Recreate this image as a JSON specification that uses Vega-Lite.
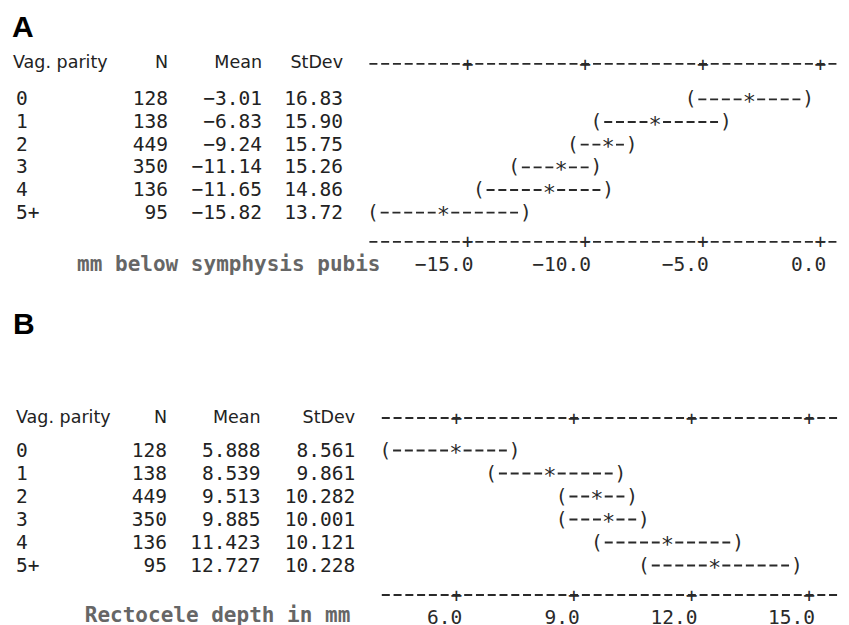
{
  "$schema": "https://vega.github.io/schema/vega-lite/v6.json",
  "background": "white",
  "padding": {"left": 12, "top": 13, "right": 4, "bottom": 0},
  "config": {"view": {"stroke": null}, "font": "DejaVu Sans Mono"},
  "datasets": {
    "A": [
      {"parity": "0", "n": 128, "mean": -3.01, "sd": 16.83, "lo": -5.5, "mid": -3.0, "hi": -0.5},
      {"parity": "1", "n": 138, "mean": -6.83, "sd": 15.90, "lo": -9.5, "mid": -7.0, "hi": -4.0},
      {"parity": "2", "n": 449, "mean": -9.24, "sd": 15.75, "lo": -10.5, "mid": -9.0, "hi": -8.0},
      {"parity": "3", "n": 350, "mean": -11.14, "sd": 15.26, "lo": -13.0, "mid": -11.0, "hi": -9.5},
      {"parity": "4", "n": 136, "mean": -11.65, "sd": 14.86, "lo": -14.5, "mid": -11.5, "hi": -9.0},
      {"parity": "5+", "n": 95, "mean": -15.82, "sd": 13.72, "lo": -19.0, "mid": -16.0, "hi": -12.5}
    ],
    "B": [
      {"parity": "0", "n": 128, "mean": 5.888, "sd": 8.561, "lo": 4.2, "mid": 6.0, "hi": 7.5},
      {"parity": "1", "n": 138, "mean": 8.539, "sd": 9.861, "lo": 6.9, "mid": 8.4, "hi": 10.2},
      {"parity": "2", "n": 449, "mean": 9.513, "sd": 10.282, "lo": 8.7, "mid": 9.6, "hi": 10.5},
      {"parity": "3", "n": 350, "mean": 9.885, "sd": 10.001, "lo": 8.7, "mid": 9.9, "hi": 10.8},
      {"parity": "4", "n": 136, "mean": 11.423, "sd": 10.121, "lo": 9.6, "mid": 11.4, "hi": 13.2},
      {"parity": "5+", "n": 95, "mean": 12.727, "sd": 10.228, "lo": 10.8, "mid": 12.6, "hi": 14.7}
    ]
  },
  "spacing": 34,
  "vconcat": [
    {
      "title": {"text": "A", "anchor": "start", "font": "Liberation Sans", "fontSize": 30, "fontWeight": "bold", "color": "#000", "offset": 10.5, "dx": -1},
      "data": {"name": "A"},
      "bounds": "flush",
      "spacing": 24,
      "hconcat": [
        {
          "width": 64, "height": 136,
          "title": {"text": "Vag. parity", "anchor": "start", "font": "DejaVu Sans", "fontSize": 17.5, "fontWeight": "normal", "color": "#222", "offset": 17, "dx": -3},
          "mark": {"type": "text", "align": "left", "baseline": "middle", "font": "DejaVu Sans Mono", "fontSize": 19.5, "color": "#222"},
          "encoding": {
            "y": {"field": "parity", "type": "ordinal", "sort": null, "axis": null, "scale": {"type": "band", "paddingInner": 0, "paddingOuter": 0}},
            "x": {"value": 0},
            "text": {"field": "parity"}
          }
        },
        {
          "width": 64, "height": 136,
          "title": {"text": "N", "anchor": "end", "font": "DejaVu Sans", "fontSize": 17.5, "fontWeight": "normal", "color": "#222", "offset": 17},
          "mark": {"type": "text", "align": "right", "baseline": "middle", "font": "DejaVu Sans Mono", "fontSize": 19.5, "color": "#222"},
          "encoding": {
            "y": {"field": "parity", "type": "ordinal", "sort": null, "axis": null, "scale": {"type": "band", "paddingInner": 0, "paddingOuter": 0}},
            "x": {"value": "width"},
            "text": {"field": "n"}
          }
        },
        {
          "width": 70, "height": 136,
          "title": {"text": "Mean", "anchor": "end", "font": "DejaVu Sans", "fontSize": 17.5, "fontWeight": "normal", "color": "#222", "offset": 17},
          "mark": {"type": "text", "align": "right", "baseline": "middle", "font": "DejaVu Sans Mono", "fontSize": 19.5, "color": "#222"},
          "encoding": {
            "y": {"field": "parity", "type": "ordinal", "sort": null, "axis": null, "scale": {"type": "band", "paddingInner": 0, "paddingOuter": 0}},
            "x": {"value": "width"},
            "text": {"field": "mean", "type": "quantitative", "format": ".2f"}
          }
        },
        {
          "width": 57, "height": 136,
          "title": {"text": "StDev", "anchor": "end", "font": "DejaVu Sans", "fontSize": 17.5, "fontWeight": "normal", "color": "#222", "offset": 17},
          "mark": {"type": "text", "align": "right", "baseline": "middle", "font": "DejaVu Sans Mono", "fontSize": 19.5, "color": "#222"},
          "encoding": {
            "y": {"field": "parity", "type": "ordinal", "sort": null, "axis": null, "scale": {"type": "band", "paddingInner": 0, "paddingOuter": 0}},
            "x": {"value": "width"},
            "text": {"field": "sd", "type": "quantitative", "format": ".2f"}
          }
        },
        {
          "width": 470.6, "height": 136,
          "resolve": {"axis": {"x": "independent"}},
          "encoding": {
            "y": {"field": "parity", "type": "ordinal", "sort": null, "axis": null, "scale": {"type": "band", "paddingInner": 0, "paddingOuter": 0}}
          },
          "layer": [
            {
              "mark": {"type": "rule", "color": "#2a2a2a", "strokeWidth": 1.8, "strokeDash": [8, 3.77], "xOffset": 7.8, "x2Offset": -7.8},
              "encoding": {
                "x": {"field": "lo", "type": "quantitative", "scale": {"domain": [-19.25, 0.75], "nice": false, "zero": false},
                  "axis": {"orient": "bottom", "offset": 17.3, "values": [-15, -10, -5, 0], "ticks": false, "tickSize": 0, "grid": false,
                    "domainDash": [8, 3.77], "domainDashOffset": -1.9, "domainColor": "#2a2a2a", "domainWidth": 1.8,
                    "labelExpr": "['+', format(datum.value, '.1f')]", "labelAlign": "right", "labelOffset": 5.9, "labelBaseline": "top", "labelPadding": -8.4, "labelLineHeight": 22.7,
                    "labelFont": "DejaVu Sans Mono", "labelFontSize": 19.5, "labelColor": "#2a2a2a", "labelFlush": false, "labelOverlap": false, "labelBound": false,
                    "title": "mm below symphysis pubis", "titleAnchor": "start", "titleAlign": "right", "titleBaseline": "alphabetic", "titleX": 13, "titleY": 29.5,
                    "titleFont": "DejaVu Sans Mono", "titleFontSize": 21, "titleFontWeight": "bold", "titleColor": "#666"}},
                "x2": {"field": "mid"}
              }
            },
            {
              "mark": {"type": "rule", "color": "#2a2a2a", "strokeWidth": 1.8, "strokeDash": [8, 3.77], "xOffset": 7.8, "x2Offset": -7.8},
              "encoding": {
                "x": {"field": "mid", "type": "quantitative",
                  "axis": {"orient": "top", "offset": 24.7, "values": [-15, -10, -5, 0], "ticks": false, "tickSize": 0, "grid": false,
                    "domainDash": [8, 3.77], "domainDashOffset": -1.9, "domainColor": "#2a2a2a", "domainWidth": 1.8,
                    "labelExpr": "'+'", "labelAlign": "center", "labelBaseline": "middle", "labelPadding": -1.2,
                    "labelFont": "DejaVu Sans Mono", "labelFontSize": 19.5, "labelColor": "#2a2a2a", "labelFlush": false, "labelOverlap": false, "labelBound": false,
                    "title": null}},
                "x2": {"field": "hi"}
              }
            },
            {
              "mark": {"type": "text", "text": "(", "font": "DejaVu Sans Mono", "fontSize": 19.5, "color": "#2a2a2a", "baseline": "middle"},
              "encoding": {"x": {"field": "lo", "type": "quantitative", "axis": null}}
            },
            {
              "mark": {"type": "text", "text": "*", "font": "DejaVu Sans Mono", "fontSize": 22, "color": "#2a2a2a", "baseline": "middle", "dy": 2.5},
              "encoding": {"x": {"field": "mid", "type": "quantitative", "axis": null}}
            },
            {
              "mark": {"type": "text", "text": ")", "font": "DejaVu Sans Mono", "fontSize": 19.5, "color": "#2a2a2a", "baseline": "middle"},
              "encoding": {"x": {"field": "hi", "type": "quantitative", "axis": null}}
            }
          ]
        }
      ]
    },
    {
      "title": {"text": "B", "anchor": "start", "font": "Liberation Sans", "fontSize": 30, "fontWeight": "bold", "color": "#000", "offset": 69, "dx": -3},
      "data": {"name": "B"},
      "bounds": "flush",
      "spacing": 23.6,
      "hconcat": [
        {
          "width": 64, "height": 138,
          "title": {"text": "Vag. parity", "anchor": "start", "font": "DejaVu Sans", "fontSize": 17.5, "fontWeight": "normal", "color": "#222", "offset": 12.8, "dx": 0},
          "mark": {"type": "text", "align": "left", "baseline": "middle", "font": "DejaVu Sans Mono", "fontSize": 19.5, "color": "#222"},
          "encoding": {
            "y": {"field": "parity", "type": "ordinal", "sort": null, "axis": null, "scale": {"type": "band", "paddingInner": 0, "paddingOuter": 0}},
            "x": {"value": 0},
            "text": {"field": "parity"}
          }
        },
        {
          "width": 63.4, "height": 138,
          "title": {"text": "N", "anchor": "end", "font": "DejaVu Sans", "fontSize": 17.5, "fontWeight": "normal", "color": "#222", "offset": 12.8},
          "mark": {"type": "text", "align": "right", "baseline": "middle", "font": "DejaVu Sans Mono", "fontSize": 19.5, "color": "#222"},
          "encoding": {
            "y": {"field": "parity", "type": "ordinal", "sort": null, "axis": null, "scale": {"type": "band", "paddingInner": 0, "paddingOuter": 0}},
            "x": {"value": "width"},
            "text": {"field": "n"}
          }
        },
        {
          "width": 69.4, "height": 138,
          "title": {"text": "Mean", "anchor": "end", "font": "DejaVu Sans", "fontSize": 17.5, "fontWeight": "normal", "color": "#222", "offset": 12.8},
          "mark": {"type": "text", "align": "right", "baseline": "middle", "font": "DejaVu Sans Mono", "fontSize": 19.5, "color": "#222"},
          "encoding": {
            "y": {"field": "parity", "type": "ordinal", "sort": null, "axis": null, "scale": {"type": "band", "paddingInner": 0, "paddingOuter": 0}},
            "x": {"value": "width"},
            "text": {"field": "mean", "type": "quantitative", "format": ".3f"}
          }
        },
        {
          "width": 70.4, "height": 138,
          "title": {"text": "StDev", "anchor": "end", "font": "DejaVu Sans", "fontSize": 17.5, "fontWeight": "normal", "color": "#222", "offset": 12.8},
          "mark": {"type": "text", "align": "right", "baseline": "middle", "font": "DejaVu Sans Mono", "fontSize": 19.5, "color": "#222"},
          "encoding": {
            "y": {"field": "parity", "type": "ordinal", "sort": null, "axis": null, "scale": {"type": "band", "paddingInner": 0, "paddingOuter": 0}},
            "x": {"value": "width"},
            "text": {"field": "sd", "type": "quantitative", "format": ".3f"}
          }
        },
        {
          "width": 458.6, "height": 138,
          "resolve": {"axis": {"x": "independent"}},
          "encoding": {
            "y": {"field": "parity", "type": "ordinal", "sort": null, "axis": null, "scale": {"type": "band", "paddingInner": 0, "paddingOuter": 0}}
          },
          "layer": [
            {
              "mark": {"type": "rule", "color": "#2a2a2a", "strokeWidth": 1.8, "strokeDash": [8, 3.77], "xOffset": 7.8, "x2Offset": -7.8},
              "encoding": {
                "x": {"field": "lo", "type": "quantitative", "scale": {"domain": [4.05, 15.75], "nice": false, "zero": false},
                  "axis": {"orient": "bottom", "offset": 17.5, "values": [6, 9, 12, 15], "ticks": false, "tickSize": 0, "grid": false,
                    "domainDash": [8, 3.77], "domainDashOffset": -1.9, "domainColor": "#2a2a2a", "domainWidth": 1.8,
                    "labelExpr": "['+', format(datum.value, '.1f')]", "labelAlign": "right", "labelOffset": 5.9, "labelBaseline": "top", "labelPadding": -8.4, "labelLineHeight": 22,
                    "labelFont": "DejaVu Sans Mono", "labelFontSize": 19.5, "labelColor": "#2a2a2a", "labelFlush": false, "labelOverlap": false, "labelBound": false,
                    "title": "Rectocele depth in mm", "titleAnchor": "start", "titleAlign": "right", "titleBaseline": "alphabetic", "titleX": -29.6, "titleY": 26.5,
                    "titleFont": "DejaVu Sans Mono", "titleFontSize": 21, "titleFontWeight": "bold", "titleColor": "#666"}},
                "x2": {"field": "mid"}
              }
            },
            {
              "mark": {"type": "rule", "color": "#2a2a2a", "strokeWidth": 1.8, "strokeDash": [8, 3.77], "xOffset": 7.8, "x2Offset": -7.8},
              "encoding": {
                "x": {"field": "mid", "type": "quantitative",
                  "axis": {"orient": "top", "offset": 21.5, "values": [6, 9, 12, 15], "ticks": false, "tickSize": 0, "grid": false,
                    "domainDash": [8, 3.77], "domainDashOffset": -1.9, "domainColor": "#2a2a2a", "domainWidth": 1.8,
                    "labelExpr": "'+'", "labelAlign": "center", "labelBaseline": "middle", "labelPadding": -1.2,
                    "labelFont": "DejaVu Sans Mono", "labelFontSize": 19.5, "labelColor": "#2a2a2a", "labelFlush": false, "labelOverlap": false, "labelBound": false,
                    "title": null}},
                "x2": {"field": "hi"}
              }
            },
            {
              "mark": {"type": "text", "text": "(", "font": "DejaVu Sans Mono", "fontSize": 19.5, "color": "#2a2a2a", "baseline": "middle"},
              "encoding": {"x": {"field": "lo", "type": "quantitative", "axis": null}}
            },
            {
              "mark": {"type": "text", "text": "*", "font": "DejaVu Sans Mono", "fontSize": 22, "color": "#2a2a2a", "baseline": "middle", "dy": 2.5},
              "encoding": {"x": {"field": "mid", "type": "quantitative", "axis": null}}
            },
            {
              "mark": {"type": "text", "text": ")", "font": "DejaVu Sans Mono", "fontSize": 19.5, "color": "#2a2a2a", "baseline": "middle"},
              "encoding": {"x": {"field": "hi", "type": "quantitative", "axis": null}}
            }
          ]
        }
      ]
    }
  ]
}
